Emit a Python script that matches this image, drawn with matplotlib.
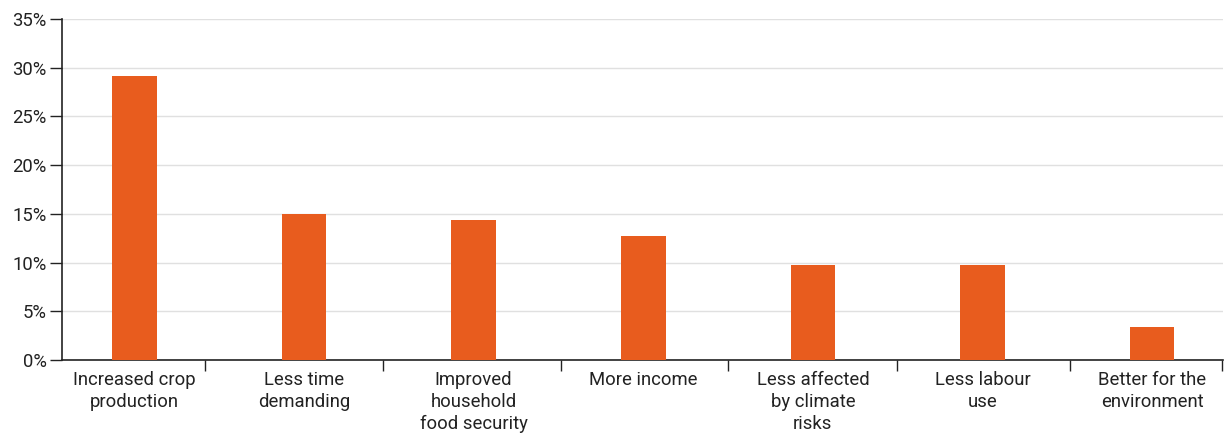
import matplotlib
matplotlib.use("Agg")
import matplotlib.pyplot as plt
from matplotlib.ticker import FuncFormatter

categories = ["Increased crop\nproduction", "Less time\ndemanding", "Improved\nhousehold\nfood security",
              "More income", "Less affected\nby climate\nrisks", "Less labour\nuse", "Better for the\nenvironment"]
values = [29.1, 15.0, 14.4, 12.7, 9.8, 9.8, 3.4]
yticks = [0, 5, 10, 15, 20, 25, 30, 35]
sep_ticks = [0.416, 1.465, 2.514, 3.50, 4.496, 5.516, 6.41]

plt.rcParams['font.family'] = ['Roboto', 'DejaVu Sans']
fig = plt.figure(figsize=(12.24, 4.34), dpi=100)
ax = fig.add_axes([62/1224, 1-360/434, (1223-62)/1224, (360-19)/434])

x = list(range(len(categories)))
ax.bar(x, values, width=0.263, color="#E85C1E", zorder=3)

ax.set_ylim(0, 35)
ax.set_xlim(-0.427, 6.418)
ax.set_yticks(yticks)
ax.yaxis.set_major_formatter(FuncFormatter(lambda v, p: f"{int(v)}%"))
ax.grid(axis='y', color="#e0e0e0", linewidth=1, zorder=0)
ax.set_axisbelow(True)

ax.set_xticks(x)
ax.set_xticklabels(categories, fontsize=13.3, color="#222222", linespacing=1.28, va='top')
ax.tick_params(axis='x', which='major', length=0, pad=8)
ax.set_xticks(sep_ticks, minor=True)
ax.tick_params(axis='x', which='minor', length=8, width=1, color="#222222", direction='out')
ax.tick_params(axis='y', length=9, width=1, color="#222222", labelsize=13.3, labelcolor="#222222", pad=2)

for s in ['top', 'right']:
    ax.spines[s].set_visible(False)
for s in ['left', 'bottom']:
    ax.spines[s].set_color("#222222")
    ax.spines[s].set_linewidth(1.2)

fig.savefig("out.png", dpi=100)
